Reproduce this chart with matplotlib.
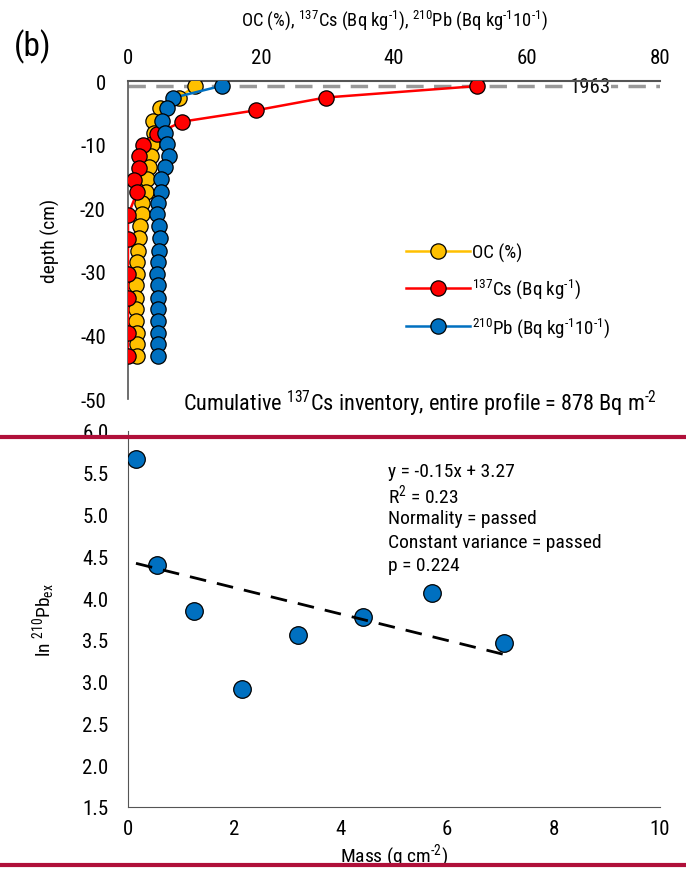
import numpy as np
import matplotlib
matplotlib.use("Agg")
import matplotlib.pyplot as plt
from matplotlib.lines import Line2D
from matplotlib import font_manager

avail = {f.name for f in font_manager.fontManager.ttflist}
cands = ['Liberation Sans Narrow', 'Roboto Condensed', 'DejaVu Sans Condensed',
         'Open Sans Condensed', 'Liberation Sans']
MAIN = next(c for c in cands if c in avail) if any(c in avail for c in cands) else 'DejaVu Sans'
FONT = [MAIN, 'DejaVu Sans']
plt.rcParams['font.family'] = FONT
plt.rcParams['axes.unicode_minus'] = False
plt.rcParams['mathtext.fontset'] = 'custom'
plt.rcParams['mathtext.rm'] = MAIN
plt.rcParams['mathtext.it'] = MAIN
plt.rcParams['mathtext.bf'] = MAIN
K = 1.0 if MAIN != 'Liberation Sans' else 0.9

# ---------------- top panel data ----------------
depth = [-0.75, -2.65, -4.3, -6.25, -8.2, -9.9, -11.75, -13.55, -15.4, -17.4,
         -19.2, -20.9, -22.75, -24.7, -26.7, -28.5, -30.35, -32.1, -34.1, -35.85,
         -37.7, -39.65, -41.35, -43.2]
oc = [10.1, 7.6, 4.8, 3.8, 3.9, 3.6, 3.4, 3.2, 2.9, 2.7,
      2.15, 2.05, 1.8, 1.7, 1.55, 1.4, 1.3, 1.2, 1.2, 1.2,
      1.2, 1.3, 1.3, 1.3]
pb210 = [14.1, 6.8, 5.9, 5.1, 5.55, 5.9, 6.2, 5.55, 4.9, 4.9,
         4.55, 4.4, 4.7, 4.8, 4.7, 4.55, 4.4, 4.55, 4.55, 4.55,
         4.55, 4.55, 4.55, 4.55]
cs_depth = [-0.8, -2.6, -4.6, -6.4, -8.3, -10.1, -11.8, -13.7, -15.6, -17.4,
            -21.1, -24.8, -30.3, -34.1, -39.7, -43.2]
cs137 = [52.5, 29.7, 19.3, 8.1, 4.3, 2.2, 1.7, 1.7, 0.9, 1.4,
         0.0, 0.0, 0.0, 0.0, 0.0, 0.0]
year_depth = -0.8
year_label = '1963'

top_xticks = [0, 20, 40, 60, 80]
top_yticks = [0, -10, -20, -30, -40, -50]

# ---------------- bottom panel data ----------------
mass = [0.15, 0.55, 1.24, 2.14, 3.2, 4.42, 5.71, 7.07]
ln_pb = [5.66, 4.40, 3.84, 2.91, 3.56, 3.77, 4.06, 3.46]
bot_xticks = [0, 2, 4, 6, 8, 10]
bot_yticks = [1.5, 2.0, 2.5, 3.0, 3.5, 4.0, 4.5, 5.0, 5.5, 6.0]
stats_text = ["y = -0.15x + 3.27", r"R$^{2}$ = 0.23", "Normality = passed",
              "Constant variance = passed", "p = 0.224"]

M1 = r'$^{\text{-1}}$'
M2 = r'$^{\text{-2}}$'

W, H = 686, 878
fig = plt.figure(figsize=(W / 100, H / 100), dpi=100)

def fx(px):
    return px / W

def fy(py):
    return 1 - py / H

YEL, RED, BLU = '#FFC000', '#FF0000', '#0070C0'
ms = 11
TICK = 15 * K

# ---------------- top axes ----------------
ax1 = fig.add_axes([fx(128), fy(400), fx(660) - fx(128), fy(82) - fy(400)])
ax1.plot(oc, depth, '-o', color=YEL, mfc=YEL, mec='black', mew=0.9, ms=ms, lw=1.8,
         label='OC (%)', zorder=3)
ax1.plot(cs137, cs_depth, '-o', color=RED, mfc=RED, mec='black', mew=0.9, ms=ms, lw=1.8,
         label=r'$^{137}$Cs (Bq kg' + M1 + ')', zorder=4)
ax1.plot(pb210, depth, '-o', color=BLU, mfc=BLU, mec='black', mew=0.9, ms=ms, lw=1.8,
         label=r'$^{210}$Pb (Bq kg' + M1 + '10' + M1 + ')', zorder=5)
ax1.axhline(year_depth, color='#999999', lw=2.5, ls=(0, (5, 3)), zorder=2)
ax1.text(69.5, year_depth, year_label, ha='center', va='center', fontsize=TICK,
         color='#111111', bbox=dict(facecolor='white', edgecolor='none', pad=0.5), zorder=2.5)
ax1.set_xlim(0, 80)
ax1.set_ylim(-50, 0)
ax1.xaxis.tick_top()
ax1.set_xticks(top_xticks)
ax1.set_yticks(top_yticks)
ax1.tick_params(axis='both', length=0, labelsize=TICK, pad=16)
ax1.tick_params(axis='x', pad=10)
for s in ['right', 'bottom']:
    ax1.spines[s].set_visible(False)
ax1.spines['top'].set_color('#555555')
ax1.spines['top'].set_linewidth(1.5)
ax1.spines['left'].set_color('#555555')
ax1.spines['left'].set_linewidth(1.2)
ax1.set_ylabel('depth (cm)', fontsize=14 * K, labelpad=14)
ax1.set_xlabel(r'OC (%), $^{137}$Cs (Bq kg' + M1 + r'), $^{210}$Pb (Bq kg' + M1 + '10' + M1 + ')',
               fontsize=13.3 * K, labelpad=17)
ax1.xaxis.set_label_position('top')
ax1.legend(loc='upper left', bbox_to_anchor=(fx(398), fy(236)), bbox_transform=fig.transFigure,
           frameon=False, fontsize=13.6 * K, handlelength=3.4, handletextpad=0.1,
           labelspacing=0.8, borderaxespad=0)

fig.text(fx(14), fy(47), '(b)', fontsize=24, va='center', ha='left')
fig.text(fx(420), fy(404), r'Cumulative $^{137}$Cs inventory, entire profile = 878 Bq m' + M2,
         fontsize=16 * K, ha='center', va='center')

# ---------------- bottom axes ----------------
ax2 = fig.add_axes([fx(128), fy(808), fx(660) - fx(128), fy(432) - fy(808)])
ax2.scatter(mass, ln_pb, s=160, color=BLU, edgecolor='black', linewidth=0.9, zorder=3)
coef = np.polyfit(mass, ln_pb, 1)
xl = np.array([min(mass), max(mass)])
ax2.plot(xl, np.polyval(coef, xl), color='black', ls=(0, (6, 4)), lw=2, zorder=4)
ax2.set_xlim(0, 10)
ax2.set_ylim(1.5, 6.0)
ax2.set_xticks(bot_xticks)
ax2.set_yticks(bot_yticks)
ax2.set_yticklabels([f'{v:.1f}' for v in bot_yticks])
ax2.tick_params(axis='both', length=0, labelsize=TICK, pad=14)
ax2.tick_params(axis='x', pad=9)
for s in ['right', 'top']:
    ax2.spines[s].set_visible(False)
ax2.spines['left'].set_color('#555555')
ax2.spines['bottom'].set_color('#555555')
ax2.set_xlabel(r'Mass (g cm' + M2 + ')', fontsize=14 * K, labelpad=2)
ax2.set_ylabel(r'ln $^{210}$Pb$_{\text{ex}}$', fontsize=14 * K, labelpad=18)
for i, t in enumerate(stats_text):
    fig.text(fx(388), fy(472 + i * 23.5), t, fontsize=14 * K, ha='left', va='center')

# decorative red separator lines
for yy in [438, 866]:
    fig.add_artist(Line2D([0, 1], [fy(yy), fy(yy)], transform=fig.transFigure,
                          color='#B0103A', lw=3, zorder=10))

fig.savefig('out.png', dpi=100)
